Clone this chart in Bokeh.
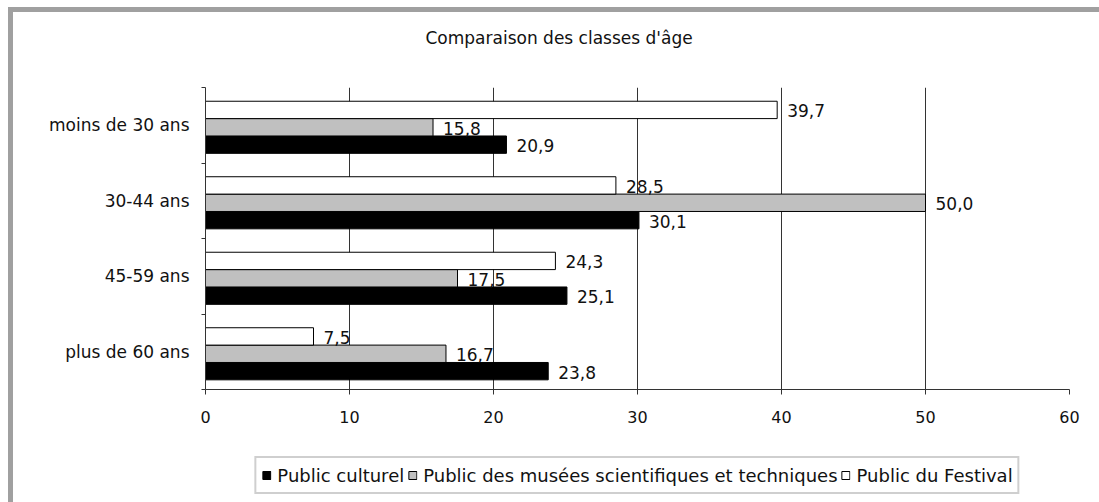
from bokeh.plotting import figure
from bokeh.layouts import column
from bokeh.models import (Range1d, FixedTicker, Legend, LegendItem, ColumnDataSource,
                          LabelSet, Title)
from bokeh.core.properties import value
from bokeh.embed import file_html
from bokeh.resources import INLINE

# ---- data ----
categories = ["moins de 30 ans", "30-44 ans", "45-59 ans", "plus de 60 ans"]
public_culturel = [20.9, 30.1, 25.1, 23.8]
public_musees = [15.8, 50.0, 17.5, 16.7]
public_festival = [39.7, 28.5, 24.3, 7.5]
series_names = ["Public culturel",
                "Public des musées scientifiques et techniques",
                "Public du Festival"]
x_ticks = [0, 10, 20, 30, 40, 50, 60]
title_text = "Comparaison des classes d'âge"

FONT = "DejaVu Sans"
GRID = "#333333"
TXT = "#111111"

n = len(categories)
pos = [n - 1 - i for i in range(n)]          # first category on top
bar_h = 0.23
shift = -0.027
offsets = [shift - bar_h, shift, shift + bar_h]  # culturel (bottom), musees, festival (top)
fills = ["#000000", "#c0c0c0", "#ffffff"]
series = [public_culturel, public_musees, public_festival]

frame_bg = ("linear-gradient(#a0a0a0,#a0a0a0) 8px 7px / 5px 100% no-repeat, "
            "linear-gradient(#a0a0a0,#a0a0a0) 8px 7px / 100% 5px no-repeat, white")

W = 1099
p = figure(width=W, height=440, output_backend="svg", toolbar_location=None,
           x_range=Range1d(0, 60), y_range=Range1d(-0.5, n - 0.5),
           min_border_left=205, min_border_right=30, min_border_top=87,
           min_border_bottom=51)
p.outline_line_color = None
p.background_fill_color = "white"
p.border_fill_alpha = 0

for vals, off, fc, name in zip(series, offsets, fills, series_names):
    src = ColumnDataSource(dict(
        y=[pp + off for pp in pos],
        right=vals,
        lab=[("%.1f" % v).replace(".", ",") for v in vals],
    ))
    p.hbar(y="y", left=0, right="right", height=bar_h, source=src,
           fill_color=fc, line_color="#000000", line_width=1)
    ls = LabelSet(x="right", y="y", text="lab", source=src, x_offset=10, y_offset=-1,
                  text_baseline="middle", text_align="left",
                  text_font=value(FONT), text_font_size=value("17px"), text_color=TXT)
    p.add_layout(ls)

# x axis / grid
p.xaxis.ticker = FixedTicker(ticks=x_ticks)
p.xaxis.axis_line_color = GRID
p.xaxis.major_tick_line_color = GRID
p.xaxis.major_tick_out = 5
p.xaxis.major_tick_in = 0
p.xaxis.minor_tick_line_color = None
p.xaxis.major_label_text_font = FONT
p.xaxis.major_label_text_font_size = "16px"
p.xaxis.major_label_text_color = TXT
p.xaxis.major_label_standoff = 16
p.xgrid.ticker = FixedTicker(ticks=x_ticks)
p.xgrid.grid_line_color = GRID
p.xgrid.grid_line_width = 1
p.ygrid.grid_line_color = None

# y axis: labels at category centres, ticks at boundaries
p.yaxis.ticker = FixedTicker(ticks=pos, minor_ticks=[k - 0.5 for k in range(n + 1)])
p.yaxis.major_label_overrides = {pp: c for pp, c in zip(pos, categories)}
p.yaxis.major_tick_line_color = None
p.yaxis.minor_tick_line_color = GRID
p.yaxis.minor_tick_out = 4
p.yaxis.minor_tick_in = 0
p.yaxis.axis_line_color = GRID
p.yaxis.major_label_text_font = FONT
p.yaxis.major_label_text_font_size = "17px"
p.yaxis.major_label_text_color = TXT
p.yaxis.major_label_standoff = 10

# title (a spacer keeps it well above the frame)
p.title.text = ""
p.title.standoff = 0
p.title.text_font_size = "1px"
p.add_layout(Title(text=" ", text_font_size="1px", standoff=32), "above")
p.add_layout(Title(text=title_text, align="left", offset=220, standoff=10,
                   text_font=FONT, text_font_size="17px", text_font_style="normal",
                   text_color=TXT), "above")

# legend strip under the chart
pl = figure(width=W, height=62, output_backend="svg", toolbar_location=None,
            x_range=Range1d(0, 1), y_range=Range1d(0, 1),
            x_axis_location=None, y_axis_location=None,
            min_border_left=205, min_border_right=30, min_border_top=0,
            min_border_bottom=0)
pl.outline_line_color = None
pl.xgrid.visible = False
pl.ygrid.visible = False
pl.background_fill_alpha = 0
pl.border_fill_alpha = 0
# swatch renderers are hidden; only their legend glyphs show
leg_renderers = [pl.hbar(y=[5], left=[0], right=[0.1], height=0.5, fill_color=fc,
                         line_color="#000000", line_width=1, visible=False) for fc in fills]
legend = Legend(items=[LegendItem(label=nm, renderers=[r]) for nm, r in zip(series_names, leg_renderers)],
                orientation="horizontal", location="bottom_center", click_policy="none",
                border_line_color="#a0a0a0", border_line_width=2,
                glyph_width=10, glyph_height=10, label_standoff=6, spacing=3,
                padding=5, margin=8, label_height=24,
                label_text_font=FONT, label_text_font_size="18px",
                label_text_color=TXT, background_fill_color="white", background_fill_alpha=1)
pl.add_layout(legend)

layout = column(p, pl, spacing=0, styles={"background": frame_bg})
open("out.html", "w").write(file_html(layout, INLINE))
